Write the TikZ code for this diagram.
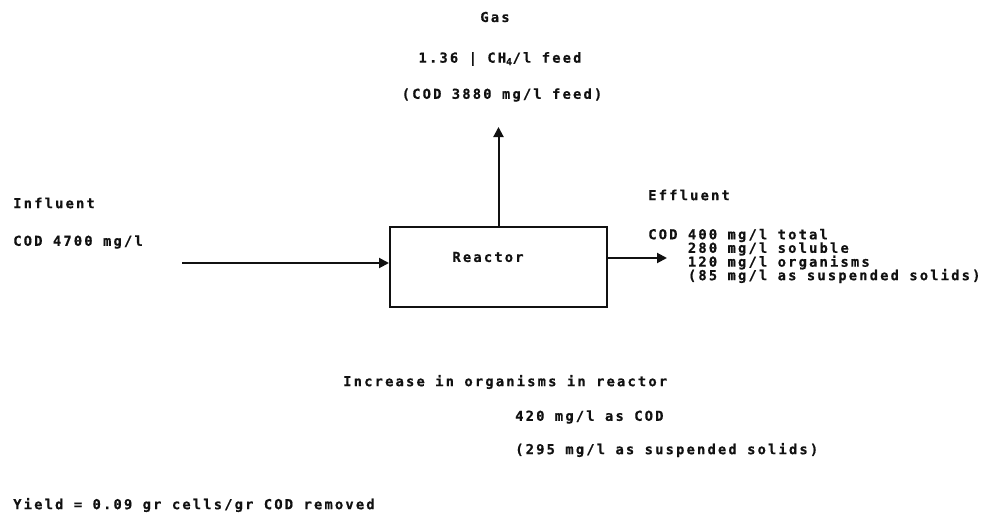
\documentclass[tikz,border=0pt]{standalone}
\usepackage{fontspec}
\setmonofont{DejaVu Sans Mono}[LetterSpace=16,BoldFeatures={FakeBold=0.6}]
\usepackage{xcolor}
\usepackage{tikz}
\usetikzlibrary{arrows.meta,positioning}
\definecolor{inkc}{HTML}{111111}
\tikzset{
  flow/.style={-{Triangle[length=7.5pt,width=7.5pt]},line width=1.5pt,inkc},
  vessel/.style={draw=inkc,line width=1.5pt,minimum width=162.75pt,minimum height=60pt,inner sep=0pt},
  txt/.style={font=\ttfamily\bfseries\fontsize{10.3}{12}\selectfont,text=inkc,inner sep=0pt},
  lft/.style={txt,anchor=west}
}

\begin{document}
\begin{tikzpicture}[x=0.75pt,y=-0.75pt]
\useasboundingbox (0,0) rectangle (989,521);
% gas
\node[txt] (gas) at (495,17) {Gas};
\node[txt] (gasrate) at (500,59) {1.36 | CH\textsubscript{4}/l feed};
\node[txt] (gascod) at (502,95) {(COD 3880 mg/l feed)};
% influent
\node[lft] (infl) at (13,203) {Influent};
\node[lft] (inflcod) at (13,242) {COD 4700 mg/l};
% reactor
\node[vessel] (reactor) at (498.5,267) {};
\node[txt] (reactorlbl) at (488,257) {Reactor};
% effluent
\node[lft] (effl) at (648,195) {Effluent};
\node[lft] (efflcod) at (648,235.5) {COD 400 mg/l total};
\node[lft] (efflsol) at (648,249) {\phantom{COD }280 mg/l soluble};
\node[lft] (efflorg) at (648,262.5) {\phantom{COD }120 mg/l organisms};
\node[lft] (efflss) at (648,276) {\phantom{COD }(85 mg/l as suspended solids)};
% organisms
\node[lft] (incr) at (343,382) {Increase in organisms in reactor};
\node[lft] (incrcod) at (515,417) {420 mg/l as COD};
\node[lft] (incrss) at (515,450) {(295 mg/l as suspended solids)};
\node[lft] (yield) at (13,505) {Yield = 0.09 gr cells/gr COD removed};
% flows
\coordinate (feed) at (182,263);
\coordinate (gastop) at (498.5,127);
\coordinate (outlet) at (667,258);
\draw[flow] (feed) -- (feed -| reactor.west);
\draw[flow] (reactor.north) -- (gastop);
\draw[flow] (outlet -| reactor.east) -- (outlet);
\end{tikzpicture}
\end{document}
